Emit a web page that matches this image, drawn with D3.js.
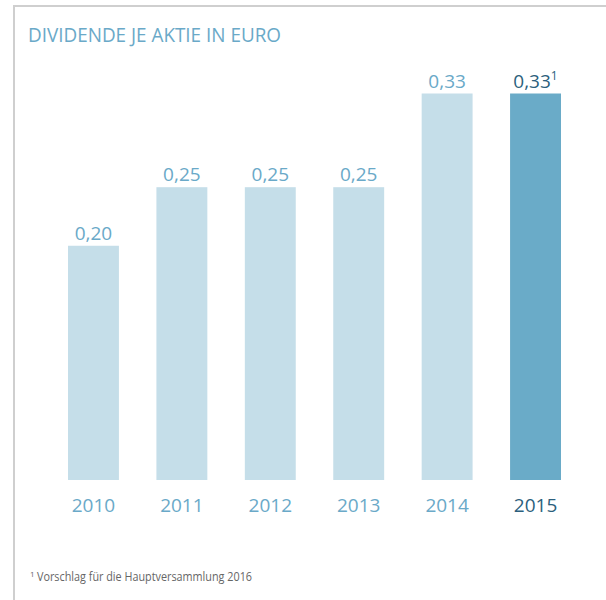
<!DOCTYPE html>
<html>
<head>
<meta charset="utf-8">
<script src="https://cdn.jsdelivr.net/npm/d3@7"></script>
<style>
  body { margin: 0; background: #fff; }
  svg { display: block; font-family: "Open Sans", sans-serif; }
</style>
</head>
<body>
<svg id="container"></svg>
<script>
const years = ["2010", "2011", "2012", "2013", "2014", "2015"];
const dividends = [0.20, 0.25, 0.25, 0.25, 0.33, 0.33];
const valueLabels = ["0,20", "0,25", "0,25", "0,25", "0,33", "0,33"];
const footnoteMarks = ["", "", "", "", "", "1"];
const title = "DIVIDENDE JE AKTIE IN EURO";
const footnote = "Vorschlag für die Hauptversammlung 2016";

let width = 606;
let height = 600;
let baseY = 480;
let lightBar = "#c5dee9";
let darkBar = "#6aabc8";
let lightText = "#6aa9c8";
let darkText = "#2c5f7d";

const svg = d3.select("#container").attr("width", width).attr("height", height);

// frame: top and left rule
svg.append("path")
  .attr("d", `M 14 600 V 6 H 606`)
  .attr("fill", "none")
  .attr("stroke", "#cfcfcf")
  .attr("stroke-width", 2);

svg.append("text")
  .attr("x", 28)
  .attr("y", 42)
  .attr("fill", lightText)
  .attr("font-size", 20)
  .attr("textLength", 253)
  .attr("lengthAdjust", "spacingAndGlyphs")
  .text(title);

const xScale = d3.scaleBand()
  .domain(years)
  .range([68, 561])
  .paddingInner(0.424)
  .paddingOuter(0);

const yScale = d3.scaleLinear()
  .domain([0, 0.33])
  .range([baseY, 93.5]);

const last = years[years.length - 1];

svg.selectAll(".bar")
  .data(years)
  .join("rect")
  .attr("class", "bar")
  .attr("x", (d) => xScale(d))
  .attr("width", xScale.bandwidth())
  .attr("y", (d, i) => yScale(dividends[i]))
  .attr("height", (d, i) => baseY - yScale(dividends[i]))
  .attr("fill", (d) => (d === last ? darkBar : lightBar));

const labels = svg.selectAll(".value")
  .data(years)
  .join("text")
  .attr("class", "value")
  .attr("x", (d) => xScale(d) + xScale.bandwidth() / 2)
  .attr("y", (d, i) => yScale(dividends[i]) - 6)
  .attr("text-anchor", "middle")
  .attr("font-size", 19)
  .attr("fill", (d) => (d === last ? darkText : lightText));

labels.append("tspan").text((d, i) => valueLabels[i]);
labels.append("tspan")
  .attr("font-size", 12)
  .attr("dy", -8)
  .text((d, i) => footnoteMarks[i]);

const xAxis = d3.axisBottom(xScale).tickSize(0).tickPadding(0);
const gx = svg.append("g")
  .attr("transform", `translate(0, ${baseY})`)
  .call(xAxis);
gx.select(".domain").remove();
gx.selectAll("text")
  .attr("dy", null)
  .attr("y", 32)
  .attr("font-size", 19)
  .attr("font-family", "Open Sans, sans-serif")
  .attr("fill", (d) => (d === last ? darkText : lightText));

const fn = svg.append("text")
  .attr("x", 30)
  .attr("y", 581)
  .attr("font-size", 12.5)
  .attr("fill", "#666");
fn.append("tspan").attr("font-size", 8).attr("dy", -4).text("1");
fn.append("tspan")
  .attr("dy", 4)
  .attr("x", 37)
  .attr("textLength", 215)
  .attr("lengthAdjust", "spacingAndGlyphs")
  .text(footnote);
</script>
</body>
</html>
